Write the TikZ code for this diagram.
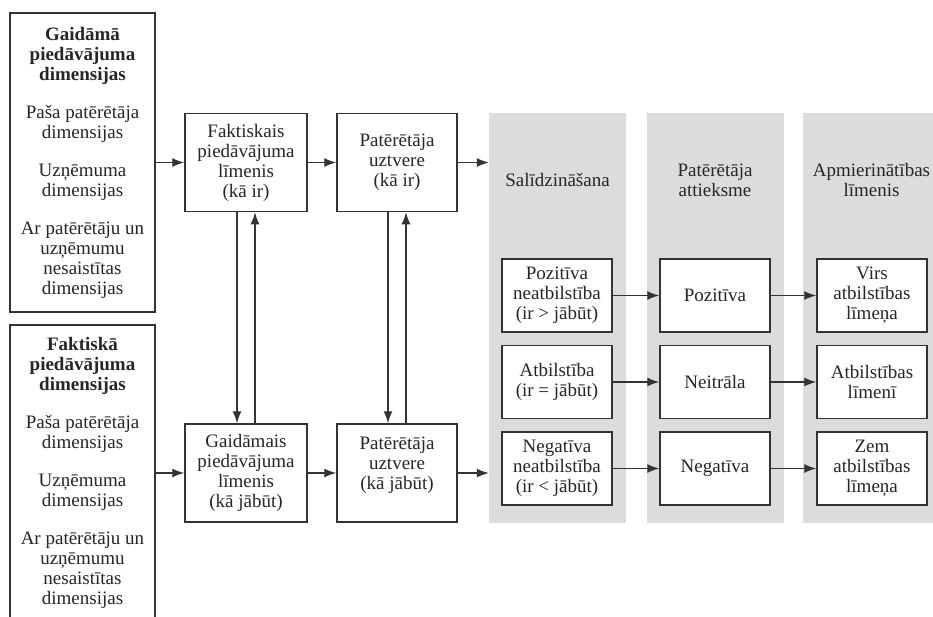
\documentclass[tikz,border=0pt]{standalone}
\usepackage{fontspec}
\setmainfont{Liberation Serif}
\usetikzlibrary{arrows.meta}
\definecolor{ln}{HTML}{333333}
\definecolor{txt}{HTML}{262626}
\definecolor{colgray}{HTML}{DCDCDC}
\newcommand{\bx}[6]{\node[box,minimum width=#4pt,minimum height=#5pt] (#1) at (#2,#3) {#6};}
\newcommand{\smbx}[4]{\bx{#1}{#2}{#3}{110}{73}{#4}}

\begin{document}
\begin{tikzpicture}[x=1pt,y=-1pt,font=\fontsize{19}{20}\selectfont,
  box/.style={draw=ln,line width=1.5pt,fill=white,text=txt,align=center,inner sep=0pt},
  col/.style={fill=colgray,minimum width=137pt,minimum height=410pt,inner sep=0pt},
  head/.style={text=txt,align=center,inner sep=0pt},
  arr/.style={draw=ln,line width=1.4pt,-{Latex[length=12pt,width=9pt]}}]
  \useasboundingbox (0,0) rectangle (933,616);
  \clip (0,0) rectangle (933,616);
  % grey columns with their headings
  \node[col] (cmp) at (557.5,318) {}; \node[head] (hcmp) at (557.5,180) {Salīdzināšana};
  \node[col] (att) at (715,318)   {}; \node[head] (hatt) at (715,180)   {Patērētāja\\attieksme};
  \node[col] (lvl) at (871.5,318) {}; \node[head] (hlvl) at (871.5,180) {Apmierinātības\\līmenis};
  % dimensions
  \bx{gd}{82.5}{162.5}{145}{299}{\textbf{Gaidāmā}\\\textbf{piedāvājuma}\\\textbf{dimensijas}\\[18pt]Paša patērētāja\\dimensijas\\[18pt]Uzņēmuma\\dimensijas\\[18pt]Ar patērētāju un\\uzņēmumu\\nesaistītas\\dimensijas}
  \bx{fd}{82.5}{473}{145}{296}{\textbf{Faktiskā}\\\textbf{piedāvājuma}\\\textbf{dimensijas}\\[18pt]Paša patērētāja\\dimensijas\\[18pt]Uzņēmuma\\dimensijas\\[18pt]Ar patērētāju un\\uzņēmumu\\nesaistītas\\dimensijas}
  % levels and perception
  \bx{fk}{246}{162.5}{122}{98}{Faktiskais\\piedāvājuma\\līmenis\\(kā ir)}
  \bx{pk}{397}{162.5}{120}{98}{Patērētāja\\uztvere\\(kā ir)}
  \bx{gk}{246}{473}{122}{98}{Gaidāmais\\piedāvājuma\\līmenis\\(kā jābūt)}
  \bx{pj}{397}{473}{120}{98}{Patērētāja\\uztvere\\(kā jābūt)\\[0pt]\mbox{}}
  % outcomes
  \smbx{c1}{557}{295.5}{Pozitīva\\neatbilstība\\(ir > jābūt)} \smbx{a1}{715}{295.5}{Pozitīva}  \smbx{l1}{872}{295.5}{Virs\\atbilstības\\līmeņa}
  \smbx{c2}{557}{382}{Atbilstība\\(ir = jābūt)}                 \smbx{a2}{715}{382}{Neitrāla}   \smbx{l2}{872}{382}{Atbilstības\\līmenī}
  \smbx{c3}{557}{468.5}{Negatīva\\neatbilstība\\(ir < jābūt)}   \smbx{a3}{715}{468.5}{Negatīva} \smbx{l3}{872}{468.5}{Zem\\atbilstības\\līmeņa}
  % connectors
  \draw[arr] (gd.east) -- (fk.west); \draw[arr] (fk.east) -- (pk.west); \draw[arr] (pk.east) -- (pk.east -| cmp.west);
  \draw[arr] (fd.east) -- (gk.west); \draw[arr] (gk.east) -- (pj.west); \draw[arr] (pj.east) -- (pj.east -| cmp.west);
  \draw[arr] ([xshift=-9pt]fk.south) -- ([xshift=-9pt]gk.north); \draw[arr] ([xshift=9pt]gk.north) -- ([xshift=9pt]fk.south);
  \draw[arr] ([xshift=-9pt]pk.south) -- ([xshift=-9pt]pj.north); \draw[arr] ([xshift=9pt]pj.north) -- ([xshift=9pt]pk.south);
  \foreach \r in {1,2,3} {\draw[arr] (c\r.east) -- (a\r.west); \draw[arr] (a\r.east) -- (l\r.west);}
\end{tikzpicture}
\end{document}
